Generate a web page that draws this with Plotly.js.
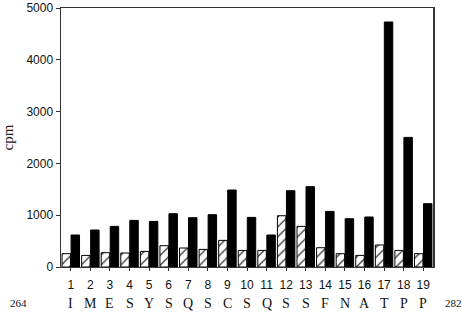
<!DOCTYPE html>
<html><head><meta charset="utf-8">
<script src="https://cdn.plot.ly/plotly-3.0.1.min.js"></script>
<style>html,body{margin:0;padding:0;background:#fff}</style>
</head><body><div id="chart" style="width:462px;height:312px"></div>
<script>
var positions = ["1","2","3","4","5","6","7","8","9","10","11","12","13","14","15","16","17","18","19"];
var residues = ["I","M","E","S","Y","S","Q","S","C","S","Q","S","S","F","N","A","T","P","P"];
var hatchedValues = [257,224,276,270,301,411,367,340,514,320,320,990,784,372,257,224,425,320,257];
var blackValues = [618,714,784,900,880,1029,952,1010,1486,958,618,1473,1550,1073,932,965,4730,2502,1222];
var yTicks = [0,1000,2000,3000,4000,5000];
var startLabel = "264";
var endLabel = "282";

var traces = [
  {type:'bar', x:positions, y:hatchedValues, name:'control',
   marker:{color:'white', line:{color:'black', width:1},
     pattern:{shape:'/', fgcolor:'black', bgcolor:'white', size:7, solidity:0.15}}},
  {type:'bar', x:positions, y:blackValues, name:'peptide',
   marker:{color:'black', line:{color:'black', width:1}}}
];

var annotations = residues.map(function(r,i){
  return {x:i, y:0, xref:'x', yref:'paper', yshift:-36, yanchor:'middle',
    text:r, showarrow:false, font:{family:'Liberation Serif, Times New Roman, serif', size:14, color:'#111'}};
});
annotations.push({x:-43/372, y:0, xref:'paper', yref:'paper', xanchor:'center', yanchor:'middle',
  yshift:-36, text:startLabel, showarrow:false,
  font:{family:'Liberation Serif, serif', size:11, color:'#111'}});
annotations.push({x:1, y:0, xref:'paper', yref:'paper', xanchor:'left', yanchor:'middle',
  yshift:-36, xshift:10, text:endLabel, showarrow:false,
  font:{family:'Liberation Serif, serif', size:11, color:'#111'}});

var layout = {
  width:462, height:312,
  margin:{l:61, r:29, t:8, b:45},
  paper_bgcolor:'white', plot_bgcolor:'white',
  showlegend:false,
  barmode:'group', bargap:0.08, bargroupgap:0.06,
  font:{family:'Liberation Sans, Arial, sans-serif', color:'#222'},
  xaxis:{type:'category', showgrid:false, zeroline:false, showline:true, linecolor:'#333', linewidth:1,
    mirror:true, ticks:'outside', ticklen:3, tickcolor:'#333', ticklabelstandoff:4,
    tickfont:{size:12, family:'Liberation Sans, Arial, sans-serif', color:'#111'}},
  yaxis:{range:[0,5000], tickvals:yTicks, showgrid:false, zeroline:false, showline:true,
    linecolor:'#333', linewidth:1.5, mirror:true, ticks:'outside', ticklen:4, tickcolor:'#333',
    tickfont:{size:12, family:'Liberation Sans, Arial, sans-serif', color:'#111'},
    title:{text:'cpm', standoff:14, font:{family:'Liberation Serif, Times New Roman, serif', size:15, color:'#222'}}},
  annotations:annotations
};
Plotly.newPlot('chart', traces, layout, {displayModeBar:false, staticPlot:true});
</script></body></html>
